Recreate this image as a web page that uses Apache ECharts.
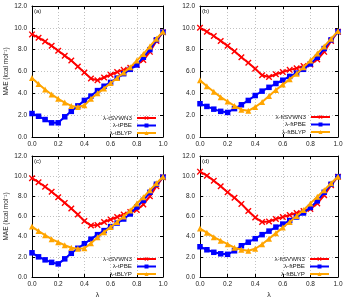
<!DOCTYPE html>
<html><head><meta charset="utf-8">
<script src="https://cdn.jsdelivr.net/npm/echarts@6/dist/echarts.min.js"></script>
<style>html,body{margin:0;padding:0;background:#fff}#c{width:350px;height:300px}</style>
</head><body><div id="c"></div>
<script>
var lambda = [0,0.05,0.1,0.15,0.2,0.25,0.3,0.35,0.4,0.45,0.5,0.55,0.6,0.65,0.7,0.75,0.8,0.85,0.9,0.95,1.0];
var xTicks = ['0.0','0.2','0.4','0.6','0.8','1.0'];
var yTicks = ['0.0','2.0','4.0','6.0','8.0','10.0','12.0'];
var panelLabels = ['(a)','(b)','(c)','(d)'];
var namesT = ['λ-tSVWN3','λ-tPBE','λ-tBLYP'];
var namesFT = ['λ-ftSVWN3','λ-ftPBE','λ-ftBLYP'];

var aSVWN = [9.4,9.1,8.75,8.35,7.9,7.45,7.0,6.45,5.9,5.35,5.2,5.45,5.7,5.95,6.15,6.35,6.6,7.05,7.8,8.8,9.6];
var aPBE  = [2.15,1.9,1.6,1.3,1.3,1.85,2.35,2.85,3.35,3.75,4.25,4.65,5.0,5.4,5.8,6.2,6.6,7.3,8.0,8.9,9.6];
var aBLYP = [5.4,4.85,4.35,3.9,3.5,3.15,2.85,2.75,2.9,3.5,4.0,4.45,4.95,5.4,5.9,6.4,7.0,7.6,8.3,9.0,9.65];

var bSVWN = [10.0,9.65,9.25,8.8,8.35,7.85,7.3,6.8,6.25,5.65,5.5,5.75,5.95,6.15,6.3,6.5,6.65,7.1,7.8,8.8,9.65];
var bPBE  = [3.05,2.8,2.55,2.35,2.25,2.6,2.95,3.35,3.8,4.2,4.55,4.9,5.2,5.55,5.85,6.2,6.7,7.3,8.1,8.9,9.65];
var bBLYP = [5.2,4.65,4.15,3.65,3.25,2.85,2.5,2.4,2.75,3.2,3.75,4.3,4.8,5.3,5.8,6.4,7.0,7.65,8.3,9.0,9.7];

var cSVWN = [9.8,9.4,8.95,8.45,7.9,7.35,6.8,6.2,5.55,5.1,5.15,5.45,5.7,5.95,6.2,6.45,6.65,7.2,8.0,9.0,9.9];
var cPBE  = [2.4,2.0,1.7,1.45,1.3,1.8,2.35,2.85,3.3,3.75,4.2,4.6,5.0,5.35,5.75,6.25,6.95,7.6,8.4,9.2,9.9];
var cBLYP = [5.0,4.55,4.15,3.75,3.45,3.15,2.9,2.8,2.85,3.35,3.95,4.45,4.95,5.45,6.0,6.6,7.3,7.9,8.6,9.3,9.95];

var dSVWN = [10.45,10.05,9.55,9.0,8.4,7.85,7.25,6.55,5.9,5.45,5.5,5.75,5.95,6.15,6.35,6.55,6.75,7.3,8.1,9.1,9.95];
var dPBE  = [3.0,2.7,2.45,2.3,2.25,2.6,3.1,3.45,3.8,4.2,4.55,4.95,5.25,5.6,5.95,6.35,6.9,7.55,8.4,9.2,9.95];
var dBLYP = [4.8,4.4,3.95,3.6,3.25,2.9,2.7,2.6,2.8,3.25,3.8,4.35,4.9,5.45,6.05,6.65,7.3,7.95,8.6,9.3,9.95];

var panels = [
  {names: namesT,  data: [aSVWN,aPBE,aBLYP]},
  {names: namesFT, data: [bSVWN,bPBE,bBLYP]},
  {names: namesT,  data: [cSVWN,cPBE,cBLYP]},
  {names: namesFT, data: [dSVWN,dPBE,dBLYP]}
];

var grids = [
  {left:32, top:6, width:131, height:131},
  {left:200, top:6, width:138, height:131},
  {left:32, top:156, width:131, height:123},
  {left:200, top:156, width:138, height:123}
];
var legendPos = [
  {right:193, top:115},
  {right:19, top:114},
  {right:193, top:256},
  {right:20, top:256}
];
var colors = ['#ff0000','#0000ff','#ffa500'];
var crossPath = 'path://M0,1.5L1.5,0L5,3.5L8.5,0L10,1.5L6.5,5L10,8.5L8.5,10L5,6.5L1.5,10L0,8.5L3.5,5Z';
var symbols = [crossPath,'rect','triangle'];
var symSizes = [6.5,5.5,6];
var font = 'Liberation Sans, Arial, sans-serif';

var option = {animation:false, grid:[], xAxis:[], yAxis:[], series:[], legend:[], graphic:[]};
panels.forEach(function(p, i){
  option.grid.push(Object.assign({containLabel:false, show:false}, grids[i]));
  var lab = {fontSize:6.5, color:'#222', fontFamily:font};
  option.xAxis.push({type:'value', gridIndex:i, min:0, max:1, interval:0.2,
    name: i>=2 ? 'λ' : '', nameLocation:'middle', nameGap:15, nameTextStyle:{fontSize:7,color:'#222',fontFamily:font},
    axisLine:{show:true, onZero:false, lineStyle:{color:'#000', width:1}},
    axisTick:{show:true, inside:true, length:3, lineStyle:{color:'#000'}},
    axisLabel:Object.assign({margin:4, formatter:function(v){return xTicks[Math.round(v/0.2)];}}, lab),
    splitLine:{show:true, lineStyle:{color:'#bbbbbb', type:[1,2], width:0.9}}});
  option.xAxis.push({type:'value', gridIndex:i, min:0, max:1, interval:0.2, position:'top',
    axisLine:{show:true, onZero:false, lineStyle:{color:'#000', width:1}},
    axisTick:{show:true, inside:true, length:3, lineStyle:{color:'#000'}},
    axisLabel:{show:false}, splitLine:{show:false}});
  option.yAxis.push({type:'value', gridIndex:i, min:0, max:12, interval:2,
    name: (i%2===0) ? 'MAE (kcal mol⁻¹)' : '', nameLocation:'middle', nameGap:22, nameRotate:90,
    nameTextStyle:{fontSize:6.5,color:'#222',fontFamily:font},
    axisLine:{show:true, onZero:false, lineStyle:{color:'#000', width:1}},
    axisTick:{show:true, inside:true, length:3, lineStyle:{color:'#000'}},
    axisLabel:Object.assign({margin:5, formatter:function(v){return yTicks[Math.round(v/2)];}}, lab),
    splitLine:{show:true, lineStyle:{color:'#bbbbbb', type:[1,2], width:0.9}}});
  option.yAxis.push({type:'value', gridIndex:i, min:0, max:12, interval:2, position:'right',
    axisLine:{show:true, onZero:false, lineStyle:{color:'#000', width:1}},
    axisTick:{show:true, inside:true, length:3, lineStyle:{color:'#000'}},
    axisLabel:{show:false}, splitLine:{show:false}});
  p.data.forEach(function(arr, k){
    option.series.push({type:'line', name:p.names[k], xAxisIndex:2*i, yAxisIndex:2*i,
      data: lambda.map(function(x, j){return [x, arr[j]];}),
      symbol:symbols[k], symbolSize:symSizes[k], showSymbol:true,
      lineStyle:{color:colors[k], width:2}, itemStyle:{color:colors[k]},
      z: 2+k});
  });
  option.legend.push(Object.assign({orient:'vertical', align:'right', data:p.names,
    itemWidth:19, itemHeight:5, itemGap:1.5, padding:0,
    textStyle:{fontSize:6.2, color:'#222', fontFamily:font, padding:[0,0,0,0]}, selectedMode:false}, legendPos[i]));
  option.graphic.push({type:'text', left:grids[i].left+2, top:grids[i].top+2,
    style:{text:panelLabels[i], fontSize:6, fill:'#222', fontFamily:font}});
});
var chart = echarts.init(document.getElementById('c'), null, {renderer:'canvas'});
chart.setOption(option);
</script></body></html>
